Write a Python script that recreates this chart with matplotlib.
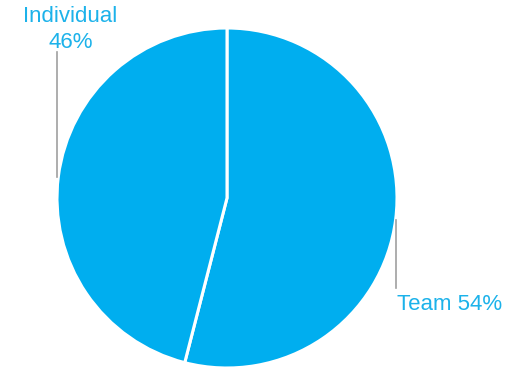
import matplotlib
matplotlib.use("Agg")
import matplotlib.pyplot as plt
import numpy as np

categories = ["Team", "Individual"]
shares = [54, 46]

W, H = 531, 370
fig = plt.figure(figsize=(W / 100, H / 100), dpi=100)
ax = fig.add_axes([0, 0, 1, 1])

cx, cy, r = 227, H - 198, 170
blue = "#00AEEF"
text_blue = "#1CB2EA"
line_grey = "#A0A0A0"

ax.pie(shares, startangle=90, counterclock=False, center=(cx, cy), radius=r,
       colors=[blue, blue],
       wedgeprops=dict(edgecolor="white", linewidth=2.2))

ax.set_xlim(0, W)
ax.set_ylim(0, H)
ax.set_aspect("equal")
ax.axis("off")

font = dict(family=["Liberation Sans", "DejaVu Sans"], fontsize=16, color=text_blue)

# Leader lines
ax.plot([57, 57], [H - 177, H - 52], color=line_grey, lw=1.2)
ax.plot([396, 396], [H - 220, H - 288], color=line_grey, lw=1.2)

ax.text(70.5, H - 22, categories[1], ha="center", va="baseline", **font)
ax.text(70.5, H - 48, f"{shares[1]}%", ha="center", va="baseline", **font)
ax.text(397, H - 310, f"{categories[0]} {shares[0]}%", ha="left", va="baseline", **font)

fig.savefig("out.png", dpi=100)
